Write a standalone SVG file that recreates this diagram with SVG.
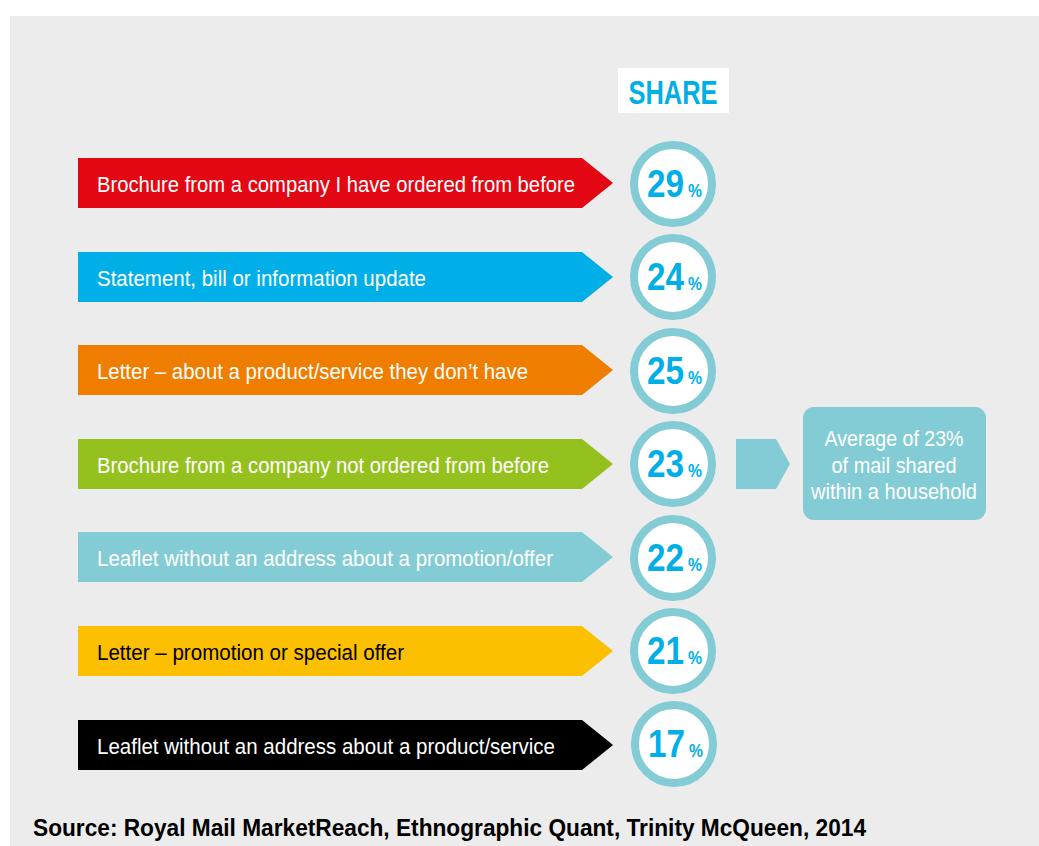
<svg xmlns="http://www.w3.org/2000/svg" width="1039" height="846" viewBox="0 0 1039 846">
<style>
.lbl{font-family:"Liberation Sans",Arial,sans-serif;font-size:22px;fill:#fff;}
.num{font-family:"Liberation Sans",Arial,sans-serif;font-weight:bold;fill:#00aee8;}
.dig{font-size:38px;text-anchor:end;}
.pct{font-size:19px;}
.ring{fill:#fff;stroke:#84ccd5;stroke-width:8;}
.avg{font-family:"Liberation Sans",Arial,sans-serif;font-size:22px;fill:#fff;text-anchor:middle;}
</style>
<rect x="0" y="0" width="1039" height="846" fill="#fff"/>
<rect x="10" y="16" width="1029" height="830" fill="#ececec"/>
<g id="share">
<rect x="618" y="68" width="111" height="45" fill="#fff"/>
<text x="673" y="104" class="num" text-anchor="middle" font-size="34" textLength="89" lengthAdjust="spacingAndGlyphs">SHARE</text>
</g>
<g id="row1">
<polygon points="78,158 582,158 613,183 582,208 78,208" fill="#e30613"/>
<text x="97" y="192" class="lbl" textLength="478" lengthAdjust="spacingAndGlyphs">Brochure from a company I have ordered from before</text>
<circle cx="673" cy="184" r="39" class="ring"/>
<text x="684" y="197" class="num dig" textLength="37" lengthAdjust="spacingAndGlyphs">29</text>
<text x="688" y="197" class="num pct" textLength="14" lengthAdjust="spacingAndGlyphs">%</text>
</g>
<g id="row2">
<polygon points="78,252 582,252 613,277 582,302 78,302" fill="#00aee8"/>
<text x="97" y="286" class="lbl" textLength="329" lengthAdjust="spacingAndGlyphs">Statement, bill or information update</text>
<circle cx="673" cy="277" r="39" class="ring"/>
<text x="684" y="290" class="num dig" textLength="37" lengthAdjust="spacingAndGlyphs">24</text>
<text x="688" y="290" class="num pct" textLength="14" lengthAdjust="spacingAndGlyphs">%</text>
</g>
<g id="row3">
<polygon points="78,345 582,345 613,370 582,395 78,395" fill="#ef7d00"/>
<text x="97" y="379" class="lbl" textLength="431" lengthAdjust="spacingAndGlyphs">Letter – about a product/service they don’t have</text>
<circle cx="673" cy="371" r="39" class="ring"/>
<text x="684" y="384" class="num dig" textLength="37" lengthAdjust="spacingAndGlyphs">25</text>
<text x="688" y="384" class="num pct" textLength="14" lengthAdjust="spacingAndGlyphs">%</text>
</g>
<g id="row4">
<polygon points="78,439 582,439 613,464 582,489 78,489" fill="#95c11f"/>
<text x="97" y="473" class="lbl" textLength="452" lengthAdjust="spacingAndGlyphs">Brochure from a company not ordered from before</text>
<circle cx="673" cy="464" r="39" class="ring"/>
<text x="684" y="477" class="num dig" textLength="37" lengthAdjust="spacingAndGlyphs">23</text>
<text x="688" y="477" class="num pct" textLength="14" lengthAdjust="spacingAndGlyphs">%</text>
</g>
<g id="row5">
<polygon points="78,532 582,532 613,557 582,582 78,582" fill="#84ccd5"/>
<text x="97" y="566" class="lbl" textLength="456" lengthAdjust="spacingAndGlyphs">Leaflet without an address about a promotion/offer</text>
<circle cx="673" cy="558" r="39" class="ring"/>
<text x="684" y="571" class="num dig" textLength="37" lengthAdjust="spacingAndGlyphs">22</text>
<text x="688" y="571" class="num pct" textLength="14" lengthAdjust="spacingAndGlyphs">%</text>
</g>
<g id="row6">
<polygon points="78,626 582,626 613,651 582,676 78,676" fill="#fcc000"/>
<text x="97" y="660" class="lbl" style="fill:#000" textLength="307" lengthAdjust="spacingAndGlyphs">Letter – promotion or special offer</text>
<circle cx="673" cy="651" r="39" class="ring"/>
<text x="684" y="664" class="num dig" textLength="37" lengthAdjust="spacingAndGlyphs">21</text>
<text x="688" y="664" class="num pct" textLength="14" lengthAdjust="spacingAndGlyphs">%</text>
</g>
<g id="row7">
<polygon points="78,720 582,720 613,745 582,770 78,770" fill="#000"/>
<text x="97" y="754" class="lbl" textLength="458" lengthAdjust="spacingAndGlyphs">Leaflet without an address about a product/service</text>
<circle cx="674" cy="744" r="39" class="ring"/>
<text x="685" y="757" class="num dig" textLength="37" lengthAdjust="spacingAndGlyphs">17</text>
<text x="689" y="757" class="num pct" textLength="14" lengthAdjust="spacingAndGlyphs">%</text>
</g>
<g id="connectors">
<polygon points="736,439 776,439 790,464 776,489 736,489" fill="#84ccd5"/>
</g>
<g id="average">
<rect x="803" y="407" width="183" height="113" rx="11" fill="#84ccd5"/>
<text x="894" y="446" class="avg" textLength="139" lengthAdjust="spacingAndGlyphs">Average of 23%</text>
<text x="894" y="473" class="avg" textLength="125" lengthAdjust="spacingAndGlyphs">of mail shared</text>
<text x="894" y="499" class="avg" textLength="166" lengthAdjust="spacingAndGlyphs">within a household</text>
</g>
<text x="33" y="836" font-family="'Liberation Sans',Arial,sans-serif" font-weight="bold" font-size="24" fill="#000" textLength="833" lengthAdjust="spacingAndGlyphs">Source: Royal Mail MarketReach, Ethnographic Quant, Trinity McQueen, 2014</text>
</svg>
